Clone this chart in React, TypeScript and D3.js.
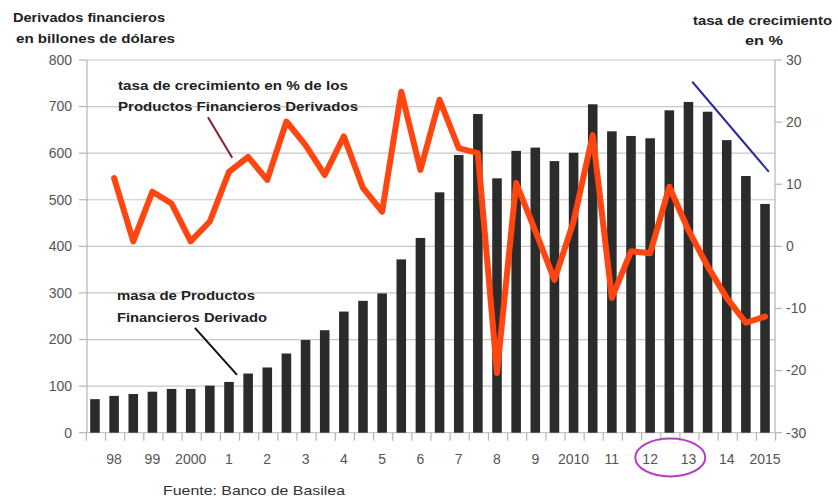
import React from "react";
import * as d3 from "d3";

// Semi-annual periods (June / December), 1998 - 2015
const periods = [
  "1998-06","1998-12","1999-06","1999-12","2000-06","2000-12","2001-06","2001-12",
  "2002-06","2002-12","2003-06","2003-12","2004-06","2004-12","2005-06","2005-12",
  "2006-06","2006-12","2007-06","2007-12","2008-06","2008-12","2009-06","2009-12",
  "2010-06","2010-12","2011-06","2011-12","2012-06","2012-12","2013-06","2013-12",
  "2014-06","2014-12","2015-06","2015-12",
];

// Year tick labels shown under the December bar of each year
const yearLabels = ["98","99","2000","1","2","3","4","5","6","7","8","9","2010","11","12","13","14","2015"];

// Outstanding derivatives (billions of dollars)
const massValues = [
  72, 79, 83, 88, 94, 94, 101, 109, 127, 140, 170, 199, 220, 260, 283, 299,
  372, 418, 516, 596, 684, 546, 605, 612, 583, 601, 705, 647, 637, 632, 692, 710,
  689, 628, 551, 491,
];

// Growth rate in % (right axis)
const growthValues: (number | null)[] = [
  null, 11.0, 0.8, 8.8, 6.9, 0.8, 4.0, 12.0, 14.4, 10.7, 20.1, 16.3, 11.5, 17.7, 9.4, 5.6,
  24.9, 12.3, 23.6, 15.8, 15.0, -20.4, 10.2, 2.5, -5.4, 4.0, 17.9, -8.3, -0.8, -1.1, 9.6, 2.6,
  -3.2, -8.3, -12.3, -11.3,
];

const leftTicks = [0, 100, 200, 300, 400, 500, 600, 700, 800];
const rightTicks = [-30, -20, -10, 0, 10, 20, 30];

// Hand-drawn trend line (index position, right-axis value)
const trendLine = [
  { i: 31.2, v: 26.5 },
  { i: 35.2, v: 12.0 },
];

const W = 839;
const H = 502;

export default function App() {
  const x = d3
    .scaleBand<string>()
    .domain(periods)
    .range([85.4, 774.6])
    .paddingInner(0.5)
    .paddingOuter(0.25);
  const step = x.step();
  const cx = (i: number) => (x(periods[0]) as number) + x.bandwidth() / 2 + i * step;
  const yL = d3.scaleLinear().domain([0, 800]).range([432.7, 60]);
  const yR = d3.scaleLinear().domain([-30, 30]).range([432.7, 60]);

  const plotL = 87;
  const plotR = 775;

  const line = d3
    .line<number | null>()
    .defined((d) => d !== null)
    .x((_, i) => cx(i))
    .y((d) => yR(d as number));

  const boundaries = d3.range(periods.length + 1).map((k) => 85.4 + k * step);

  const font = "'Liberation Sans', Arial, sans-serif";
  const tickColor = "#555";

  return (
    <svg
      width={W}
      height={H}
      style={{ position: "absolute", left: 0, top: 0, background: "#fff" }}
      fontFamily={font}
    >
      <rect width={W} height={H} fill="#fff" />
      {/* gridlines */}
      {leftTicks.map((t) => (
        <line key={"g" + t} x1={plotL} x2={plotR} y1={yL(t)} y2={yL(t)} stroke="#c8c8c8" strokeWidth={1.2} />
      ))}
      {/* axes */}
      <line x1={plotL} x2={plotL} y1={yL(800)} y2={yL(0)} stroke="#b5b5b5" strokeWidth={1.2} />
      <line x1={plotR} x2={plotR} y1={yR(30)} y2={yR(-30)} stroke="#b5b5b5" strokeWidth={1.2} />
      {leftTicks.map((t) => (
        <g key={"lt" + t}>
          <line x1={79} x2={plotL} y1={yL(t)} y2={yL(t)} stroke="#b5b5b5" strokeWidth={1.2} />
          <text x={72} y={yL(t)} dy="0.35em" textAnchor="end" fontSize={14} fill={tickColor}>
            {t}
          </text>
        </g>
      ))}
      {rightTicks.map((t) => (
        <g key={"rt" + t}>
          <line x1={plotR} x2={plotR + 7} y1={yR(t)} y2={yR(t)} stroke="#b5b5b5" strokeWidth={1.2} />
          <text x={786} y={yR(t)} dy="0.35em" textAnchor="start" fontSize={14} fill={tickColor}>
            {t}
          </text>
        </g>
      ))}
      {/* x ticks */}
      {boundaries.map((b, k) => (
        <line key={"xt" + k} x1={b + 1} x2={b + 1} y1={yL(0)} y2={yL(0) + 8} stroke="#b5b5b5" strokeWidth={1.2} />
      ))}
      {yearLabels.map((lab, k) => (
        <text key={"xl" + k} x={cx(2 * k + 1)} y={464} textAnchor="middle" fontSize={14} fill={tickColor}>
          {lab}
        </text>
      ))}
      {/* bars */}
      {massValues.map((v, i) => (
        <rect
          key={"b" + i}
          x={x(periods[i])}
          y={yL(v)}
          width={x.bandwidth()}
          height={yL(0) - yL(v)}
          fill="#2b2b2b"
        />
      ))}
      {/* growth line */}
      <path d={line(growthValues) || ""} fill="none" stroke="#ff4510" strokeWidth={6} strokeLinejoin="round" strokeLinecap="round" />
      {/* trend line */}
      <line
        x1={cx(trendLine[0].i)}
        y1={yR(trendLine[0].v)}
        x2={cx(trendLine[1].i)}
        y2={yR(trendLine[1].v)}
        stroke="#2a2a9a"
        strokeWidth={2}
      />
      {/* annotations */}
      <text x={118} y={90} fontSize={13.5} fontWeight="bold" fill="#222" textLength={230} lengthAdjust="spacingAndGlyphs">
        tasa de crecimiento en % de los
      </text>
      <text x={118} y={111} fontSize={13.5} fontWeight="bold" fill="#222" textLength={240} lengthAdjust="spacingAndGlyphs">
        Productos Financieros Derivados
      </text>
      <line x1={cx(5.9)} y1={yL(677)} x2={cx(7.17)} y2={yL(590)} stroke="#8a1c2a" strokeWidth={2} />
      <text x={117} y={300} fontSize={13.5} fontWeight="bold" fill="#222" textLength={138} lengthAdjust="spacingAndGlyphs">
        masa de Productos
      </text>
      <text x={117} y={322} fontSize={13.5} fontWeight="bold" fill="#222" textLength={150} lengthAdjust="spacingAndGlyphs">
        Financieros Derivado
      </text>
      <line x1={cx(5.22)} y1={yL(225)} x2={cx(7.42)} y2={yL(124)} stroke="#111" strokeWidth={2} />
      {/* titles */}
      <text x={13} y={22} fontSize={13} fontWeight="bold" fill="#222" textLength={152} lengthAdjust="spacingAndGlyphs">
        Derivados financieros
      </text>
      <text x={16} y={43} fontSize={13} fontWeight="bold" fill="#222" textLength={159} lengthAdjust="spacingAndGlyphs">
        en billones de dólares
      </text>
      <text x={693} y={25} fontSize={13} fontWeight="bold" fill="#222" textLength={139} lengthAdjust="spacingAndGlyphs">
        tasa de crecimiento
      </text>
      <text x={745} y={45} fontSize={13} fontWeight="bold" fill="#222" textLength={38} lengthAdjust="spacingAndGlyphs">
        en %
      </text>
      {/* highlight ellipse around 12 and 13 */}
      <ellipse cx={cx(30.05)} cy={457.5} rx={35} ry={19} fill="none" stroke="#b43cc4" strokeWidth={2} />
      {/* source */}
      <text x={163} y={495} fontSize={13} fill="#333" textLength={182} lengthAdjust="spacingAndGlyphs">
        Fuente: Banco de Basilea
      </text>
    </svg>
  );
}
